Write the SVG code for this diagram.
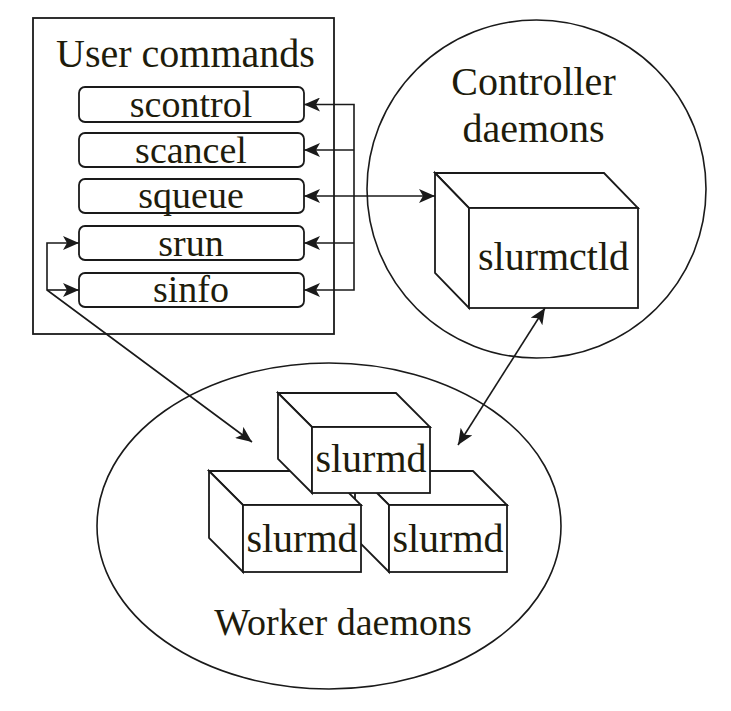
<svg xmlns="http://www.w3.org/2000/svg" width="731" height="711" viewBox="0 0 731 711">
<style>
.ln{fill:none;stroke:#1a1a1a;stroke-width:1.6}
.bx{fill:#fff;stroke:#1a1a1a;stroke-width:1.8;stroke-linejoin:miter}
.t{fill:#1e1c0c;text-anchor:middle}
.big{font-size:40px}
.cmd{font-size:38px}
.cn{fill:none;stroke:#1a1a1a;stroke-width:1.6}
</style>
<defs>
<marker id="ah" markerUnits="userSpaceOnUse" markerWidth="17" markerHeight="14" refX="16" refY="7" orient="auto-start-reverse" viewBox="0 0 17 14">
<path d="M0,0 L16,7 L0,14 L4,7 Z" fill="#1a1a1a"/>
</marker>
</defs>
<rect width="731" height="711" fill="#fff"/>
<g font-family="'Liberation Serif', Tinos, 'DejaVu Serif', 'Noto Serif', serif">

<g id="user-commands">
<rect x="33" y="18" width="301" height="316" class="bx"/>
<text x="185.5" y="67" class="t big">User commands</text>
</g>
<g id="scontrol"><rect x="79" y="87" width="225" height="35" rx="6" class="bx"/><text x="191" y="117" class="t cmd">scontrol</text></g>
<g id="scancel"><rect x="79" y="133" width="225" height="34" rx="6" class="bx"/><text x="191" y="163" class="t cmd">scancel</text></g>
<g id="squeue"><rect x="79" y="179" width="225" height="34" rx="6" class="bx"/><text x="191" y="208" class="t cmd">squeue</text></g>
<g id="srun"><rect x="79" y="226" width="225" height="34" rx="6" class="bx"/><text x="191" y="256" class="t cmd">srun</text></g>
<g id="sinfo"><rect x="79" y="273" width="225" height="34" rx="6" class="bx"/><text x="191" y="302" class="t cmd">sinfo</text></g>

<g id="controller-daemons">
<ellipse cx="536.5" cy="189" rx="169.5" ry="169" class="ln"/>
<text x="533.5" y="95" class="t big">Controller</text>
<text x="533.5" y="142" class="t big">daemons</text>
</g>

<g id="slurmctld">
<polygon points="435,173 604,173 638,208 469,208" class="bx"/>
<polygon points="435,173 469,208 469,308 435,273" class="bx"/>
<rect x="469" y="208" width="169" height="100" class="bx"/>
<text x="553.5" y="270" class="t big">slurmctld</text>
</g>

<g id="worker-daemons">
<ellipse cx="329" cy="526" rx="232" ry="163" class="ln"/>
<text x="343" y="635" class="t" font-size="38">Worker daemons</text>
</g>

<g id="slurmd-right">
<polygon points="355,471 473,471 507,505 389,505" class="bx"/>
<polygon points="355,471 389,505 389,572 355,538" class="bx"/>
<rect x="389" y="505" width="118" height="67" class="bx"/>
<text x="448" y="552" class="t big">slurmd</text>
</g>
<g id="slurmd-left">
<polygon points="209,471 327,471 361,505 243,505" class="bx"/>
<polygon points="209,471 243,505 243,572 209,538" class="bx"/>
<rect x="243" y="505" width="118" height="67" class="bx"/>
<text x="302" y="552" class="t big">slurmd</text>
</g>
<g id="slurmd-top">
<polygon points="278,393 396,393 430,427 312,427" class="bx"/>
<polygon points="278,393 312,427 312,493 278,459" class="bx"/>
<rect x="312" y="427" width="118" height="66" class="bx"/>
<text x="371" y="472" class="t big">slurmd</text>
</g>
</g>

<g id="connectors">
<path d="M304,196 H435" class="cn" marker-start="url(#ah)" marker-end="url(#ah)"/>
<path d="M354,196 V104.5 H304" class="cn" marker-end="url(#ah)"/>
<path d="M354,150 H304" class="cn" marker-end="url(#ah)"/>
<path d="M354,196 V290 H304" class="cn" marker-end="url(#ah)"/>
<path d="M354,243 H304" class="cn" marker-end="url(#ah)"/>
<path d="M252,442 L47,290 V243 H79" class="cn" marker-start="url(#ah)" marker-end="url(#ah)"/>
<path d="M47,290 H79" class="cn" marker-end="url(#ah)"/>
<path d="M545,308 L458,445" class="cn" marker-start="url(#ah)" marker-end="url(#ah)"/>
</g>
</svg>
